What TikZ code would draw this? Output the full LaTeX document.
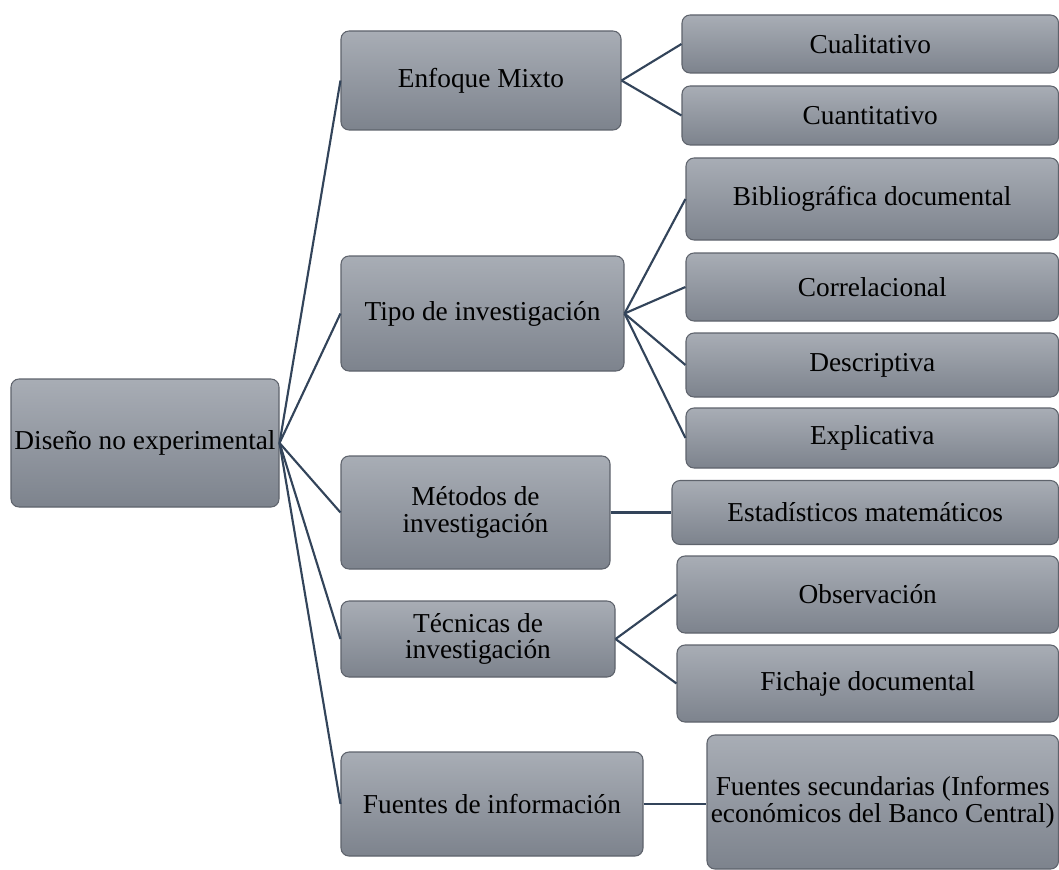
\documentclass[tikz,border=0pt]{standalone}
\usepackage{fontspec}
\setmainfont{Liberation Serif}
\definecolor{boxtop}{HTML}{A8ADB5}
\definecolor{boxbot}{HTML}{7D838D}
\definecolor{boxline}{HTML}{5E636C}
\definecolor{conncol}{HTML}{33445A}
\tikzset{
  box/.style={rounded corners=6pt, draw=boxline, line width=0.8pt,
    top color=boxtop, bottom color=boxbot, inner sep=0pt, align=center,
    font=\fontsize{20.5}{20}\selectfont, text=black},
  conn/.style={draw=conncol, line width=1.6pt}
}
\begin{document}
\begin{tikzpicture}[x=0.75pt, y=-0.75pt]
\useasboundingbox (0,0) rectangle (1059,870);
% root
\node[box, minimum width=201pt, minimum height=96pt] (root) at (145,443) {Diseño no experimental};
% level 1
\node[box, minimum width=210pt, minimum height=74.25pt] (enf) at (481,80.5) {Enfoque Mixto};
\node[box, minimum width=212.25pt, minimum height=86.25pt] (tipo) at (482.5,313.5) {Tipo de investigación};
\node[box, minimum width=201.75pt, minimum height=84.75pt] (met) at (475.5,512.5) {Métodos de\\investigación};
\node[box, minimum width=205.5pt, minimum height=57pt] (tec) at (478,639) {Técnicas de\\investigación};
\node[box, minimum width=226.5pt, minimum height=78pt] (fue) at (492,804) {Fuentes de información};
% level 2
\node[box, minimum width=282.375pt, minimum height=43.5pt] (cual) at (870.25,44) {Cualitativo};
\node[box, minimum width=282.375pt, minimum height=44.25pt] (cuan) at (870.25,115.5) {Cuantitativo};
\node[box, minimum width=279.375pt, minimum height=61.5pt] (bib) at (872.25,199) {Bibliográfica documental};
\node[box, minimum width=279.375pt, minimum height=51pt] (cor) at (872.25,287) {Correlacional};
\node[box, minimum width=279.375pt, minimum height=48pt] (des) at (872.25,365) {Descriptiva};
\node[box, minimum width=279.375pt, minimum height=45pt] (exp) at (872.25,438) {Explicativa};
\node[box, minimum width=289.875pt, minimum height=48pt] (est) at (865.25,512.5) {Estadísticos matemáticos};
\node[box, minimum width=286.125pt, minimum height=57.75pt] (obs) at (867.75,594.5) {Observación};
\node[box, minimum width=286.125pt, minimum height=57.75pt] (fic) at (867.75,683.5) {Fichaje documental};
\node[box, minimum width=263.625pt, minimum height=100.5pt] (fsec) at (882.75,802) {Fuentes secundarias (Informes\\económicos del Banco Central)};
% connectors
\draw[conn] (root.east) -- (enf.west);
\draw[conn] (root.east) -- (tipo.west);
\draw[conn] (root.east) -- (met.west);
\draw[conn] (root.east) -- (tec.west);
\draw[conn] (root.east) -- (fue.west);
\draw[conn] (enf.east) -- (cual.west);
\draw[conn] (enf.east) -- (cuan.west);
\draw[conn] (tipo.east) -- (bib.west);
\draw[conn] (tipo.east) -- (cor.west);
\draw[conn] (tipo.east) -- (des.west);
\draw[conn] (tipo.east) -- (exp.west);
\draw[conn] (met.east) -- (est.west);
\draw[conn] (tec.east) -- (obs.west);
\draw[conn] (tec.east) -- (fic.west);
\draw[conn] (fue.east) -- (fsec.west |- fue.east);
\end{tikzpicture}
\end{document}
